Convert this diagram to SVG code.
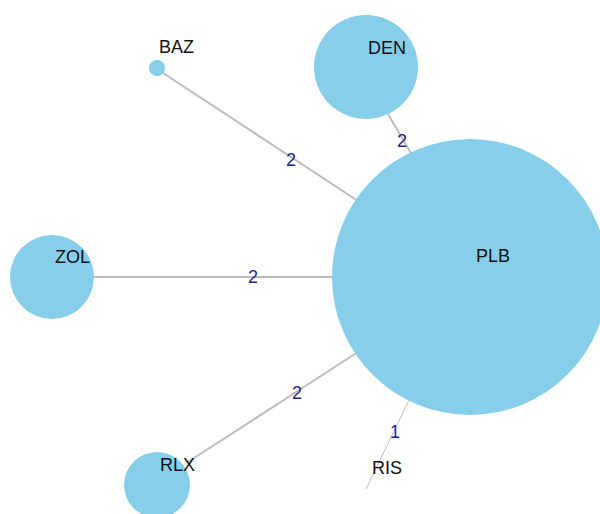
<svg xmlns="http://www.w3.org/2000/svg" width="600" height="514" viewBox="0 0 600 514">
<style>
.link{stroke:#bdbdbd;stroke-width:2;fill:none}
.thin{stroke-width:1}
.node{fill:#87ceeb}
.lbl{font-family:"Liberation Sans",Arial,sans-serif;font-size:18px;fill:#111}
.wt{font-family:"Liberation Sans",Arial,sans-serif;font-size:18px;fill:#1f1f8f;text-anchor:middle}
</style>
<rect width="600" height="514" fill="#fff"/>
<g id="links">
<line class="link" x1="160" y1="71" x2="358" y2="201"/>
<line class="link" x1="388" y1="114" x2="412" y2="155"/>
<line class="link" x1="92" y1="277" x2="336" y2="277"/>
<line class="link" x1="188" y1="462" x2="358" y2="352"/>
<line class="link thin" x1="410" y1="398" x2="366" y2="489"/>
<text class="wt" x="291" y="166">2</text>
<text class="wt" x="402" y="147">2</text>
<text class="wt" x="253" y="283">2</text>
<text class="wt" x="297" y="399">2</text>
<text class="wt" x="395" y="438">1</text>
</g>
<g id="PLB"><circle class="node" cx="470" cy="277" r="138"/><text class="lbl" x="476" y="262">PLB</text></g>
<g id="DEN"><circle class="node" cx="366" cy="67" r="52"/><text class="lbl" x="368" y="54">DEN</text></g>
<g id="BAZ"><circle class="node" cx="157" cy="68" r="8"/><text class="lbl" x="159" y="53">BAZ</text></g>
<g id="ZOL"><circle class="node" cx="52" cy="277" r="42"/><text class="lbl" x="55" y="263">ZOL</text></g>
<g id="RLX"><circle class="node" cx="157" cy="485" r="33"/><text class="lbl" x="160" y="471">RLX</text></g>
<g id="RIS"><text class="lbl" x="372" y="474">RIS</text></g>
</svg>
